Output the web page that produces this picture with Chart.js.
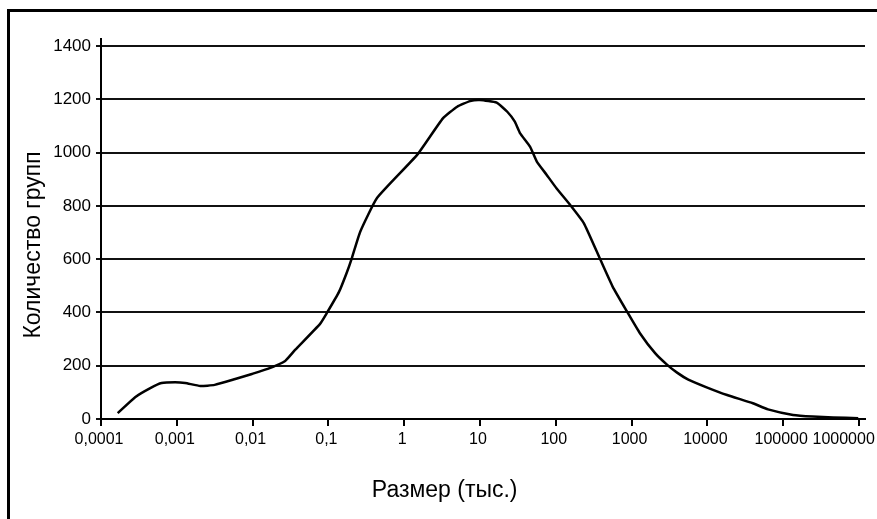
<!DOCTYPE html>
<html>
<head>
<meta charset="utf-8">
<script src="https://cdn.jsdelivr.net/npm/chart.js@4.4.1/dist/chart.umd.min.js"></script>
<style>
	html, body { margin: 0; padding: 0; background: #fff; overflow: hidden; }
	#frame { position: absolute; left: 7px; top: 9px; width: 1000px; height: 1000px; border: 3px solid #000; }
	#wrap { position: absolute; left: 0; top: 0; width: 877px; height: 519px; }
</style>
</head>
<body>
<div id="frame"></div>
<div id="wrap"><canvas id="sizeChart" width="877" height="519"></canvas></div>
<script>
// group size (thousands) -> number of groups
const sizes = [0.000166, 0.000282, 0.000447, 0.00063, 0.00095, 0.00129, 0.00204, 0.00316, 0.0059, 0.0098,
	0.0158, 0.0269, 0.0363, 0.0776, 0.0955, 0.138, 0.174, 0.204, 0.263, 0.44,
	1.48, 3.24, 5.0, 7.4, 10, 16.6, 22.9, 28.8, 33.9, 45.7,
	56.2, 75.9, 102, 155, 234, 380, 562, 871, 1288, 2042,
	2951, 3981, 5600, 9770, 18200, 39800, 63100, 135000, 245000, 457000, 977000];
const groups = [22, 82, 116, 135, 138, 135, 124, 128, 150, 169,
	188, 218, 259, 357, 398, 477, 548, 604, 703, 830,
	991, 1128, 1172, 1193, 1197, 1187, 1153, 1116, 1072, 1022,
	966, 916, 866, 803, 735, 603, 497, 403, 322, 247,
	203, 174, 148, 119, 90, 59, 36, 15, 9, 6, 3];

const xTicks = [0.0001, 0.001, 0.01, 0.1, 1, 10, 100, 1000, 10000, 100000, 1000000];
const xTickLabels = ['0,0001', '0,001', '0,01', '0,1', '1', '10', '100', '1000', '10000', '100000', '1000000'];
const yTicks = [0, 200, 400, 600, 800, 1000, 1200, 1400];

const xTickFont = { family: "'Liberation Sans', Arial, sans-serif", size: 16 };
const yTickFont = { family: "'Liberation Sans', Arial, sans-serif", size: 17 };
const titleFont = { family: "'Liberation Sans', Arial, sans-serif", size: 23 };

new Chart(document.getElementById('sizeChart'), {
	type: 'line',
	data: {
		datasets: [{
			data: sizes.map((s, i) => ({ x: s, y: groups[i] })),
			borderColor: '#000',
			borderWidth: 2.5,
			pointRadius: 0,
			tension: 0.15,
			fill: false
		}]
	},
	options: {
		animation: false,
		responsive: false,
		devicePixelRatio: 1,
		layout: { padding: { left: 0, top: 39, right: 12, bottom: 0 } },
		plugins: { legend: { display: false }, tooltip: { enabled: false } },
		scales: {
			x: {
				type: 'logarithmic',
				min: 0.0001,
				max: 1200000,
				afterBuildTicks: (scale) => { scale.ticks = xTicks.map(v => ({ value: v })); },
				afterFit: (scale) => {
					scale.height = 100;
					scale.paddingLeft = 0;
					scale.paddingRight = 0;
				},
				ticks: {
					color: '#000',
					font: xTickFont,
					padding: 4,
					maxRotation: 0,
					autoSkip: false,
					labelOffset: -2,
					// last label kept inside the frame like the original
					callback: (v) => {
						const label = xTickLabels[xTicks.indexOf(v)];
						return v === 1000000 ? label + '      ' : label;
					}
				},
				grid: { drawOnChartArea: false, drawTicks: true, tickLength: 7, color: '#000', lineWidth: 2 },
				border: { display: true, color: '#000', width: 2 },
				title: { display: true, text: 'Размер (тыс.)' + '            ', color: '#000', font: titleFont, padding: { top: 0, bottom: 15 } }
			},
			y: {
				min: 0,
				max: 1426,
				afterBuildTicks: (scale) => { scale.ticks = yTicks.map(v => ({ value: v })); },
				afterFit: (scale) => { scale.width = 101; },
				ticks: { color: '#000', font: yTickFont, padding: 5, callback: (v) => String(v) },
				grid: { color: '#111', lineWidth: 2, drawTicks: true, tickLength: 5 },
				border: { display: true, color: '#000', width: 2 },
				title: { display: true, text: 'Количество групп' + '     ', color: '#000', font: titleFont, padding: { top: 20, bottom: 0 } }
			}
		}
	}
});
</script>
</body>
</html>
